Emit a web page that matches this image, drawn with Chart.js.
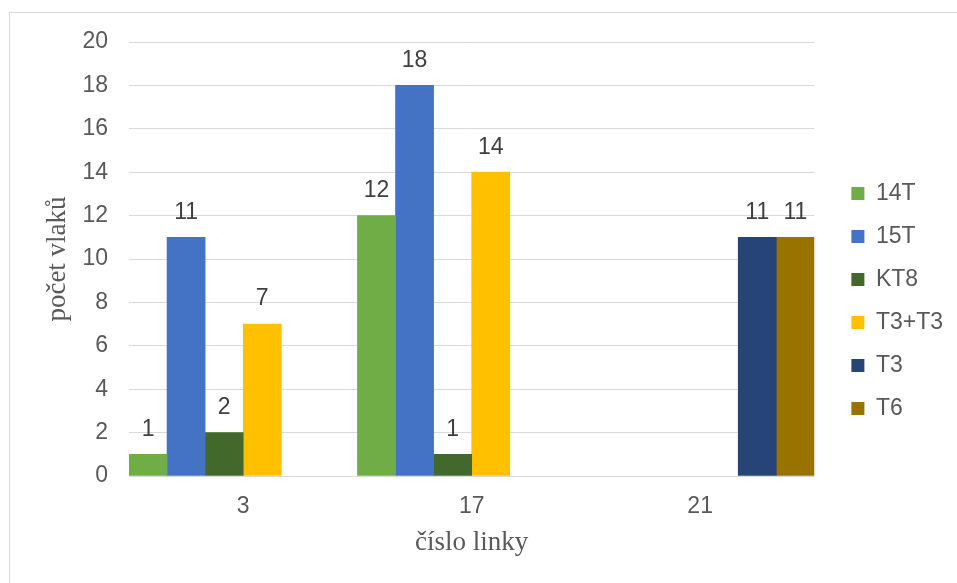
<!DOCTYPE html>
<html>
<head>
<meta charset="utf-8">
<script src="https://cdn.jsdelivr.net/npm/chart.js@4.4.1/dist/chart.umd.min.js"></script>
<style>
    html, body { margin: 0; padding: 0; background: #fff; overflow: hidden; }
    .frame { position: absolute; left: 9px; top: 12px; width: 1200px; height: 800px; border: 1px solid #d9d9d9; }
    .wrap { position: absolute; left: 0; top: 0; width: 957px; height: 583px; }
</style>
</head>
<body>
<div class="frame"></div>
<div class="wrap"><canvas id="trainChart"></canvas></div>
<script>
// čísla linek a počty vlaků podle typu
const lines = ["3", "17", "21"];
const types = ["14T", "15T", "KT8", "T3+T3", "T3", "T6"];
const colors = ["#70AD47", "#4472C4", "#43682B", "#FFC000", "#264478", "#997300"];

const count14T = [1, 12, null];
const count15T = [11, 18, null];
const countKT8 = [2, 1, null];
const countT3T3 = [7, 14, null];
const countT3 = [null, null, 11];
const countT6 = [null, null, 11];

const yTicks = [0, 2, 4, 6, 8, 10, 12, 14, 16, 18, 20];

const seriesValues = [count14T, count15T, countKT8, countT3T3, countT3, countT6];

const sansFont = "'Liberation Sans', Arial, sans-serif";
const serifFont = "'Liberation Serif', 'Times New Roman', serif";

// value labels above each bar
const barLabels = {
    id: "barLabels",
    afterDatasetsDraw(chart) {
        const ctx = chart.ctx;
        ctx.save();
        ctx.font = "23px " + sansFont;
        ctx.fillStyle = "#404040";
        ctx.textAlign = "center";
        ctx.textBaseline = "middle";
        chart.data.datasets.forEach((ds, i) => {
            const meta = chart.getDatasetMeta(i);
            meta.data.forEach((bar, j) => {
                const v = ds.data[j];
                if (v === null || v === undefined) return;
                ctx.fillText(String(v), bar.x, bar.y - 25);
            });
        });
        ctx.restore();
    }
};

new Chart(document.getElementById("trainChart"), {
    type: "bar",
    data: {
        labels: lines,
        datasets: types.map((t, i) => ({
            label: t,
            data: seriesValues[i],
            backgroundColor: colors[i],
            borderWidth: 0,
            categoryPercentage: 1.0,
            barPercentage: 1.0
        }))
    },
    options: {
        responsive: true,
        maintainAspectRatio: false,
        animation: false,
        layout: { padding: { left: 42, right: 4, top: 42, bottom: 23 } },
        plugins: {
            legend: {
                position: "right",
                labels: {
                    font: { family: sansFont, size: 23 },
                    color: "#595959",
                    boxWidth: 13,
                    boxHeight: 13,
                    padding: 20
                }
            },
            tooltip: { enabled: false }
        },
        scales: {
            x: {
                grid: { display: true, color: "rgba(0,0,0,0)", drawTicks: true, tickLength: 17 },
                border: { display: false },
                ticks: { color: "#595959", font: { family: sansFont, size: 23 }, padding: 0 },
                title: {
                    display: true,
                    text: "číslo linky",
                    color: "#595959",
                    font: { family: serifFont, size: 27, weight: "normal" },
                    padding: { top: 6, bottom: 1 }
                }
            },
            y: {
                min: 0,
                max: 20,
                afterBuildTicks(axis) {
                    axis.ticks = yTicks.map(v => ({ value: v }));
                },
                grid: { color: "#d9d9d9", lineWidth: 1, drawTicks: true, tickLength: 21, tickColor: "rgba(0,0,0,0)" },
                border: { display: false },
                ticks: { color: "#595959", font: { family: sansFont, size: 23 }, padding: 0 },
                title: {
                    display: true,
                    text: "počet vlaků",
                    color: "#595959",
                    font: { family: serifFont, size: 27, weight: "normal" },
                    padding: { top: 0, bottom: 8 }
                }
            },
            // empty spacer between plot and legend
            spacer: {
                type: "linear",
                position: "right",
                grid: { display: false, drawTicks: false },
                border: { display: false },
                ticks: { display: false },
                afterFit(axis) { axis.width = 17; }
            }
        }
    },
    plugins: [barLabels]
});
</script>
</body>
</html>
